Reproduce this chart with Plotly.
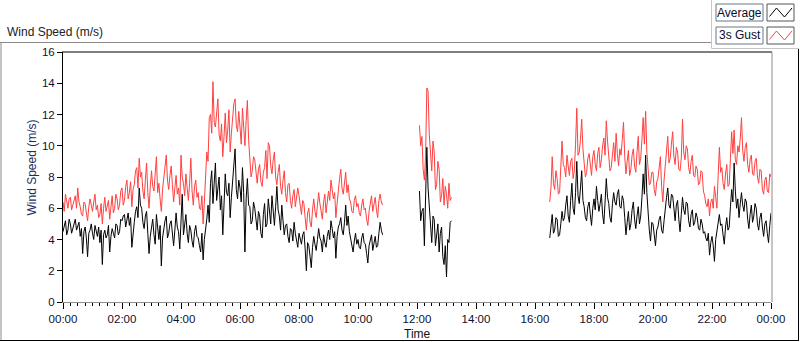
import pandas as pd
import plotly.graph_objects as go

# ---------------- data (2.5-minute samples) ----------------
BASE_DAY = "2024-01-01"
STEP = "150s"
seg1_start = "00:00"
seg2_start = "12:05"
seg3_start = "16:30"

seg1_avg = [
    4.5, 4.9, 5.2, 4.3, 4.6, 5.3, 5.0, 4.4, 4.7, 5.0, 5.3, 4.6, 4.9, 5.1, 4.2, 4.7, 3.1, 4.5, 4.8, 4.1, 2.9, 4.4, 4.6, 5.0,
    4.4, 4.0, 4.9, 4.5, 4.2, 4.8, 3.8, 4.6, 2.4, 4.3, 4.6, 4.1, 4.3, 4.9, 3.2, 4.2, 4.7, 4.4, 4.1, 5.0, 4.9, 4.3, 4.5, 5.3,
    5.2, 5.5, 5.6, 4.8, 5.3, 5.7, 4.9, 5.4, 3.5, 4.6, 5.1, 5.8, 6.1, 5.4, 7.3, 6.2, 6.0, 5.1, 4.7, 5.5, 5.8, 4.4, 3.1, 4.2,
    4.9, 5.3, 4.3, 3.7, 5.6, 4.6, 4.0, 4.9, 2.3, 4.1, 4.8, 5.2, 5.5, 4.1, 4.4, 5.0, 5.2, 4.3, 3.6, 4.6, 5.7, 4.8, 4.5, 3.4,
    5.2, 6.9, 4.3, 4.8, 5.6, 4.4, 3.8, 4.9, 4.6, 3.9, 3.5, 4.5, 4.9, 4.2, 4.1, 3.6, 3.2, 4.4, 2.7, 4.0, 4.5, 5.3, 6.2, 5.1,
    7.6, 8.4, 6.3, 7.3, 8.9, 6.5, 7.1, 8.0, 5.9, 6.8, 4.3, 6.2, 8.2, 7.0, 6.8, 7.6, 5.4, 6.7, 7.7, 8.5, 9.8, 7.2, 6.6, 7.8,
    7.3, 6.4, 8.6, 7.0, 3.2, 6.6, 7.9, 6.2, 6.1, 5.0, 5.2, 6.4, 6.0, 5.3, 4.6, 5.8, 5.5, 4.4, 4.1, 5.6, 6.3, 4.8, 5.0, 6.6,
    5.8, 5.0, 6.8, 5.6, 4.9, 6.1, 7.4, 5.9, 5.5, 4.6, 6.2, 5.2, 4.3, 4.9, 5.0, 4.2, 3.8, 4.7, 4.6, 3.9, 5.1, 4.4, 4.0, 3.5,
    4.4, 3.9, 3.7, 4.3, 4.5, 3.4, 2.0, 3.8, 3.6, 2.9, 2.2, 3.5, 4.2, 3.7, 3.3, 4.0, 4.7, 4.1, 3.9, 3.2, 4.3, 3.8, 3.5, 4.2,
    4.6, 4.0, 5.2, 4.7, 4.1, 4.5, 2.8, 4.2, 4.8, 5.0, 5.4, 4.6, 4.3, 5.1, 6.2, 4.9, 5.5, 4.5, 4.0, 3.6, 3.2, 3.9, 4.4, 3.7,
    4.0, 3.5, 3.4, 4.1, 4.4, 3.8, 3.7, 3.1, 2.5, 3.6, 3.9, 4.3, 3.3, 3.8, 4.2, 3.5, 3.6, 4.4, 5.1, 4.6, 4.3,
]
seg1_gust = [
    6.4, 5.8, 6.9, 6.3, 6.0, 6.6, 6.7, 5.9, 6.2, 6.5, 6.8, 6.0, 7.3, 6.4, 6.1, 5.6, 5.5, 6.4, 6.3, 5.7, 5.2, 6.1, 6.6, 6.2,
    5.8, 6.4, 6.9, 5.9, 6.2, 5.4, 5.6, 6.3, 5.0, 6.0, 6.7, 5.8, 6.1, 6.5, 5.3, 6.2, 6.8, 5.7, 6.0, 6.9, 6.6, 5.9, 6.2, 7.1,
    7.3, 6.2, 6.5, 7.4, 7.8, 6.6, 7.0, 7.7, 6.1, 7.2, 7.5, 8.4, 8.6, 7.3, 9.2, 8.0, 8.3, 7.1, 6.6, 7.8, 8.9, 7.0, 6.0, 7.4,
    8.4, 7.4, 7.1, 8.2, 9.3, 7.0, 7.6, 6.6, 5.8, 7.2, 8.0, 8.8, 9.4, 7.8, 7.2, 8.1, 8.7, 7.5, 6.4, 7.3, 8.1, 6.9, 7.3, 6.2,
    9.4, 8.0, 7.6, 6.8, 8.2, 7.3, 6.5, 7.6, 9.2, 7.1, 6.2, 7.4, 7.8, 6.7, 7.0, 6.0, 5.9, 6.8, 5.0, 6.4, 7.9, 9.6, 9.0, 11.8,
    12.0, 10.8, 14.1, 11.5, 11.2, 12.4, 13.0, 10.7, 10.3, 11.4, 9.3, 10.6, 12.1, 10.2, 11.0, 12.3, 9.6, 10.8, 11.6, 12.7, 13.0, 11.3, 10.9, 12.2,
    11.2, 10.1, 12.4, 10.9, 10.0, 11.6, 12.9, 10.4, 9.2, 8.0, 8.4, 9.3, 9.1, 8.2, 7.6, 8.5, 8.8, 7.7, 7.4, 8.3, 8.6, 9.7, 7.9, 10.2,
    10.0, 8.7, 8.2, 9.1, 9.6, 8.0, 7.5, 8.3, 8.8, 7.4, 6.9, 7.8, 8.4, 7.0, 6.4, 7.5, 7.6, 6.5, 6.0, 6.8, 7.2, 6.1, 6.6, 7.3,
    6.8, 6.0, 5.6, 6.5, 6.3, 5.4, 4.6, 5.7, 6.0, 5.1, 4.8, 5.9, 6.6, 5.8, 5.4, 6.2, 7.0, 6.3, 5.9, 5.3, 6.4, 6.9, 5.7, 6.6,
    7.1, 6.5, 7.8, 7.2, 6.6, 7.0, 5.4, 6.3, 7.4, 7.9, 8.5, 7.3, 6.9, 7.6, 8.3, 7.0, 7.5, 6.6, 6.4, 5.8, 5.7, 6.5, 6.8, 6.1,
    6.3, 5.7, 5.5, 6.2, 6.6, 5.9, 6.0, 5.3, 4.9, 5.8, 6.4, 6.8, 5.8, 6.3, 6.7, 5.9, 5.4, 6.5, 6.9, 6.4, 6.2,
]

seg2_avg = [7.1, 5.2, 5.8, 6.0, 3.6, 6.4, 9.9, 7.3, 6.2, 4.9, 3.8, 5.5, 5.3, 3.6,
            4.4, 5.0, 3.2, 4.4, 4.8, 2.9, 2.4, 3.6, 1.6, 4.0, 3.8, 5.1, 5.2]
seg2_gust = [11.3, 10.0, 10.6, 8.5, 7.8, 9.4, 13.7, 13.5, 10.7, 9.1, 8.4, 10.3, 9.6, 7.2,
             7.5, 9.0, 8.5, 6.4, 6.8, 7.9, 6.2, 7.4, 6.9, 6.0, 7.6, 6.5, 6.7]

seg3_avg = [
    4.1, 4.8, 5.6, 4.4, 4.6, 5.4, 5.3, 4.2, 4.3, 5.0, 5.8, 5.2,
    5.4, 6.2, 6.8, 5.5, 5.1, 6.5, 7.6, 6.0, 5.6, 7.0, 9.0, 6.8, 6.3, 7.3, 8.4, 6.5, 6.1, 5.4, 5.2, 6.1, 6.4, 5.6, 4.9, 6.0,
    6.6, 5.9, 7.4, 6.5, 5.8, 6.3, 6.9, 5.6, 5.0, 6.4, 7.9, 6.7, 6.3, 5.4, 5.1, 6.3, 7.0, 6.4, 6.2, 6.9, 7.2, 6.1, 6.0, 6.8,
    6.5, 5.4, 4.3, 5.1, 5.8, 4.6, 5.0, 5.9, 6.4, 5.3, 4.7, 5.5, 6.1, 5.0, 5.5, 6.7, 8.2, 6.9, 9.4, 7.0, 5.6, 4.6, 3.9, 5.1,
    5.0, 4.3, 3.6, 4.6, 4.8, 5.3, 5.5, 4.6, 4.4, 5.2, 6.1, 6.7, 7.3, 6.2, 6.0, 6.9, 6.8, 5.7, 5.2, 6.2, 6.5, 5.3, 4.5, 5.6,
    6.7, 5.9, 5.6, 6.4, 6.3, 5.2, 4.8, 5.6, 5.9, 4.9, 5.1, 5.7, 5.4, 4.7, 4.6, 5.3, 5.0, 4.4, 4.5, 4.1, 3.9, 4.4, 3.0, 3.8,
    4.2, 3.6, 2.6, 4.0, 4.6, 5.2, 5.6, 4.9, 5.0, 4.3, 3.7, 4.8, 5.4, 4.6, 4.8, 6.1, 7.2, 6.4, 8.9, 7.1, 6.0, 6.6, 5.4, 6.3,
    7.0, 6.2, 5.8, 6.6, 6.4, 5.3, 4.7, 5.6, 6.2, 5.1, 5.5, 6.3, 6.0, 5.0, 4.6, 5.4, 5.7, 4.8, 4.2, 5.0, 5.2, 4.4, 3.8, 4.9,
    5.7,
]
seg3_gust = [
    6.4, 7.3, 9.3, 7.6, 7.2, 8.4, 7.9, 6.9, 7.0, 8.6, 10.3, 8.8,
    8.6, 8.0, 9.4, 8.7, 8.1, 9.0, 9.2, 7.9, 8.4, 10.1, 12.4, 9.4, 9.6, 10.4, 11.7, 9.8, 9.0, 8.0, 8.3, 9.2, 9.5, 8.6, 8.1, 9.3,
    9.7, 8.8, 8.4, 9.5, 9.9, 8.6, 9.1, 10.0, 10.5, 9.4, 11.6, 10.3, 9.3, 8.4, 8.6, 9.6, 10.2, 9.0, 10.8, 9.5, 8.7, 9.8, 9.4, 10.4,
    11.5, 9.3, 8.2, 9.0, 9.7, 8.1, 8.5, 9.4, 9.8, 8.7, 8.3, 9.6, 10.6, 8.8, 9.2, 10.4, 11.8, 10.1, 12.2, 9.6, 8.4, 7.5, 7.6, 8.3,
    8.3, 7.2, 6.8, 7.7, 7.9, 8.6, 9.3, 7.4, 6.4, 7.8, 8.6, 9.8, 10.6, 8.9, 9.2, 10.1, 10.9, 9.3, 8.8, 9.9, 9.6, 8.5, 8.4, 9.2,
    11.7, 9.6, 9.1, 10.0, 9.8, 8.6, 8.2, 9.0, 9.4, 8.1, 8.0, 8.7, 8.5, 7.5, 7.6, 8.4, 8.3, 7.1, 6.8, 6.3, 6.1, 6.6, 5.5, 6.4,
    6.6, 6.0, 7.4, 6.7, 6.0, 8.1, 9.9, 8.3, 8.6, 7.6, 7.2, 8.2, 8.8, 7.4, 7.5, 9.2, 10.9, 9.5, 11.0, 9.1, 8.8, 10.0, 9.6, 10.5,
    11.8, 9.7, 9.0, 9.9, 10.2, 8.8, 8.3, 9.1, 9.4, 8.2, 8.1, 9.0, 9.2, 8.0, 7.6, 8.5, 8.4, 7.2, 6.9, 7.8, 8.0, 7.1, 7.0, 8.2,
    8.0,
]

y_ticks = [0, 2, 4, 6, 8, 10, 12, 14, 16]
series_names = ["Average", "3s Gust"]

# ---------------- build the time axis ----------------
segments = [
    (seg1_start, seg1_avg, seg1_gust),
    (seg2_start, seg2_avg, seg2_gust),
    (seg3_start, seg3_avg, seg3_gust),
]
xs, ya, yg = [], [], []
for start, a, g in segments:
    assert len(a) == len(g)
    t = pd.date_range(f"{BASE_DAY} {start}", periods=len(a), freq=STEP)
    if xs:
        xs.append(t[0] - pd.Timedelta(seconds=30))
        ya.append(None)
        yg.append(None)
    xs.extend(list(t))
    ya.extend(a)
    yg.extend(g)

x_start = pd.Timestamp(f"{BASE_DAY} 00:00")
x_end = x_start + pd.Timedelta(days=1)

# ---------------- figure ----------------
W, H = 800, 342
L, R, T, B = 63, 771, 52, 302  # plot area in pixels


def px(x):
    return (x - L) / (R - L)


def py(y):
    return (B - y) / (B - T)


FONT = "Liberation Sans, Arial, sans-serif"
TICKCOL = "#10102e"

fig = go.Figure()
fig.add_trace(go.Scatter(x=xs, y=yg, mode="lines", name=series_names[1],
                         line=dict(color="#ff4040", width=1), connectgaps=False))
fig.add_trace(go.Scatter(x=xs, y=ya, mode="lines", name=series_names[0],
                         line=dict(color="#000000", width=1), connectgaps=False))

fig.update_layout(
    width=W, height=H, autosize=False,
    margin=dict(l=L, r=W - R, t=T, b=H - B, pad=0),
    paper_bgcolor="white", plot_bgcolor="white",
    showlegend=False,
    font=dict(family=FONT, size=11.5, color=TICKCOL),
)
fig.update_xaxes(
    type="date", range=[x_start, x_end],
    tickformat="%H:%M", dtick=2 * 3600 * 1000, tick0=x_start,
    ticks="outside", ticklen=6, tickwidth=1, tickcolor="#000",
    showline=True, linecolor="#8c8c8c", linewidth=1,
    showgrid=False, zeroline=False,
    minor=dict(ticks="outside", ticklen=3, tickwidth=1, tickcolor="#000",
               dtick=15 * 60 * 1000, showgrid=False),
    tickfont=dict(family=FONT, size=11.5, color=TICKCOL),
    fixedrange=True,
)
fig.update_yaxes(
    range=[0, 16], tickvals=y_ticks, ticktext=[str(v) for v in y_ticks],
    ticks="outside", ticklen=5, tickwidth=1, tickcolor="#000",
    showline=True, linecolor="#000", linewidth=1,
    showgrid=False, zeroline=False,
    tickfont=dict(family=FONT, size=11.5, color=TICKCOL),
    fixedrange=True,
)

shapes = []


def line(x0, y0, x1, y1, color, width=1):
    shapes.append(dict(type="line", xref="paper", yref="paper",
                       x0=px(x0), y0=py(y0), x1=px(x1), y1=py(y1),
                       line=dict(color=color, width=width), layer="above"))


def rect(x0, y0, x1, y1, color, fill="white"):
    shapes.append(dict(type="rect", xref="paper", yref="paper",
                       x0=px(x0), y0=py(y0), x1=px(x1), y1=py(y1),
                       line=dict(color=color, width=1), fillcolor=fill, layer="above"))


# plot frame: top black, right grey
line(62, 52, 772, 52, "#000")
line(772, 52, 772, 302, "#8c8c8c")
# outer frame
line(0, 42.5, 712, 42.5, "#8a8a8a")
line(1, 42.5, 1, 341, "#8a8a8a")
line(0, 340.5, 799, 340.5, "#000")
line(798.5, 49, 798.5, 341, "#000")
# legend block border
line(711.5, 0, 711.5, 48.5, "#c6c6c6")
line(711.5, 48.5, 799, 48.5, "#c6c6c6")

# legend boxes
rect(716, 4, 763, 21, "#6a7686")
rect(767, 4, 794, 21, "#555")
rect(716, 27, 763, 44, "#6a7686")
rect(767, 27, 794, 44, "#555")


def zig(y_off, color):
    pts = [(769.5, 16.5), (776.5, 8), (784.5, 17), (792, 8)]
    path = "M " + " L ".join(f"{px(a)},{py(b + y_off)}" for a, b in pts)
    shapes.append(dict(type="path", xref="paper", yref="paper", path=path,
                       line=dict(color=color, width=1), layer="above"))


zig(0, "#000")
zig(23, "#ff4040")

fig.update_layout(shapes=shapes)

annotations = [
    dict(text="Wind Speed (m/s)", x=px(5), y=py(32), xref="paper", yref="paper",
         xanchor="left", yanchor="middle", showarrow=False,
         font=dict(family=FONT, size=12, color="#222")),
    dict(text="Wind Speed (m/s)", x=px(31.5), y=py(168), xref="paper", yref="paper",
         xanchor="center", yanchor="middle", showarrow=False, textangle=-90,
         font=dict(family=FONT, size=12, color="#1d2f5e")),
    dict(text="Time", x=px(417), y=py(334), xref="paper", yref="paper",
         xanchor="center", yanchor="middle", showarrow=False,
         font=dict(family=FONT, size=12, color="#111")),
    dict(text=series_names[0], x=px(739.5), y=py(12.5), xref="paper", yref="paper",
         xanchor="center", yanchor="middle", showarrow=False,
         font=dict(family=FONT, size=12, color="#0a0a30")),
    dict(text=series_names[1], x=px(739.5), y=py(35.5), xref="paper", yref="paper",
         xanchor="center", yanchor="middle", showarrow=False,
         font=dict(family=FONT, size=12, color="#0a0a30")),
]
fig.update_layout(annotations=annotations)

fig.write_html("out.html", config=dict(displayModeBar=False, staticPlot=True),
               post_script="document.body.style.margin='0';")
